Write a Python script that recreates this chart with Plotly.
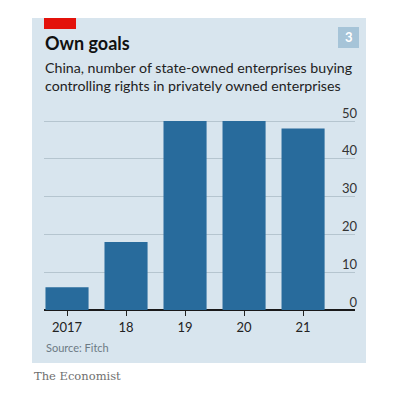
import plotly.graph_objects as go

# Data
years = ["2017", "18", "19", "20", "21"]
counts = [6, 18, 50, 50, 48]
y_ticks = [0, 10, 20, 30, 40, 50]

title = "Own goals"
subtitle = "China, number of state-owned enterprises buying<br>controlling rights in privately owned enterprises"
source = "Source: Fitch"
chart_no = "3"

BG = "#d8e5ee"
BAR = "#286b9c"
GRID = "#b5c5cf"
FONT = "Lato"

OFF = 8  # page body margin
W, H = 390, 390
# plot area in reference page pixels: x 44..355, y 100..310
PL, PR, PT, PB = 44, 355, 100, 310
L, R, T, B = PL - OFF, W - (PR - OFF), PT - OFF, H - (PB - OFF)
PW, PH = PR - PL, PB - PT


def px(x):
    return (x - PL) / PW


def py(y):
    return (PB - y) / PH


fig = go.Figure()
fig.add_trace(go.Bar(x=years, y=counts, marker=dict(color=BAR, line=dict(width=0)),
                     hoverinfo="skip"))

shapes = [
    dict(type="rect", xref="paper", yref="paper", x0=px(32), x1=px(366), y0=py(363), y1=py(18),
         fillcolor=BG, line=dict(width=0), layer="below"),
    dict(type="rect", xref="paper", yref="paper", x0=px(44), x1=px(76), y0=py(29), y1=py(18),
         fillcolor="#e3120b", line=dict(width=0), layer="above"),
    dict(type="rect", xref="paper", yref="paper", x0=px(338), x1=px(359), y0=py(48), y1=py(27),
         fillcolor="#a6c4d8", line=dict(width=0), layer="above"),
]

annotations = [
    dict(text="<b>" + title + "</b>", xref="paper", yref="paper", x=px(43), y=py(43),
         xanchor="left", yanchor="middle", showarrow=False,
         font=dict(family=FONT, size=18, color="#111111")),
    dict(text=subtitle, xref="paper", yref="paper", x=px(43), y=py(76), xanchor="left",
         yanchor="middle", align="left", showarrow=False,
         font=dict(family=FONT, size=14.2, color="#222222")),
    dict(text="<b>" + chart_no + "</b>", xref="paper", yref="paper", x=px(348.5), y=py(37.5),
         xanchor="center", yanchor="middle", showarrow=False,
         font=dict(family=FONT, size=13, color="#ffffff")),
    dict(text=source, xref="paper", yref="paper", x=px(44), y=py(347), xanchor="left",
         yanchor="middle", showarrow=False,
         font=dict(family=FONT, size=11, color="#6c7a84")),
    dict(text="The Economist", xref="paper", yref="paper", x=px(32), y=py(376), xanchor="left",
         yanchor="middle", showarrow=False,
         font=dict(family="DejaVu Serif", size=11.5, color="#6f6f6f")),
]

fig.update_layout(
    width=W, height=H,
    margin=dict(l=L, r=R, t=T, b=B, pad=0),
    paper_bgcolor="white",
    plot_bgcolor="rgba(0,0,0,0)",
    showlegend=False,
    bargap=0.27,
    shapes=shapes,
    annotations=annotations,
    font=dict(family=FONT, color="#222222"),
    xaxis=dict(
        type="category",
        range=[-0.39, 4.88],
        showgrid=False, showline=False, zeroline=False,
        ticks="outside", ticklen=5, tickwidth=1, tickcolor="#222222",
        tickfont=dict(family=FONT, size=13, color="#222222"),
        fixedrange=True,
    ),
    yaxis=dict(
        range=[0, (PB - PT) / 3.78],
        side="right",
        tickvals=y_ticks,
        ticktext=[str(v) for v in y_ticks],
        ticklabelposition="inside",
        ticklabelshift=-8,
        ticklabelstandoff=-5,
        showgrid=True, gridcolor=GRID, gridwidth=1,
        zeroline=True, zerolinecolor="#1a1a1a", zerolinewidth=1.5,
        showline=False, ticks="",
        tickfont=dict(family=FONT, size=13, color="#333333"),
        fixedrange=True,
    ),
)

fig.write_html("out.html", config=dict(displayModeBar=False))
